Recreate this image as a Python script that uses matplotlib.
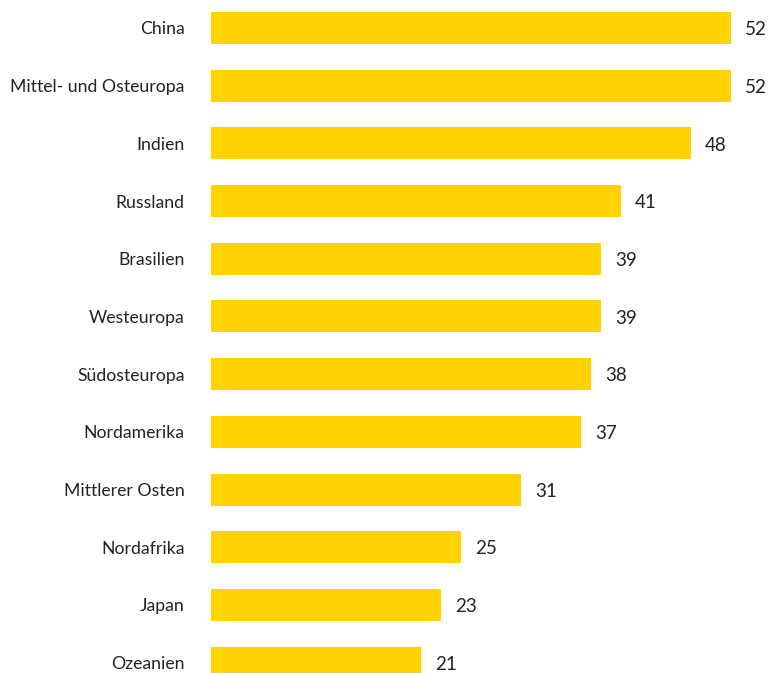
import matplotlib
matplotlib.use("Agg")
import matplotlib.pyplot as plt

regions = ["China", "Mittel- und Osteuropa", "Indien", "Russland", "Brasilien",
           "Westeuropa", "Südosteuropa", "Nordamerika", "Mittlerer Osten",
           "Nordafrika", "Japan", "Ozeanien"]
values = [52, 52, 48, 41, 39, 39, 38, 37, 31, 25, 23, 21]

plt.rcParams['font.family'] = ['Lato', 'DejaVu Sans']

fig = plt.figure(figsize=(7.75, 6.73), dpi=100)
ax = fig.add_axes([211 / 775, 0, 564 / 775, 1])

pos = list(range(len(regions)))
ax.barh(pos, values, height=0.555, color="#FFD200")

for p, v in zip(pos, values):
    ax.text(v + 1.4, p + 0.03, str(v), va="center", ha="left", fontsize=13.5, color="#222222")

ax.set_yticks(pos)
ax.set_yticklabels(regions, fontsize=12.7, color="#222222")
ax.tick_params(axis="y", length=0, pad=19)
ax.set_xticks([])
ax.set_xlim(0, 56.4)
ax.set_ylim(11.18, -0.485)
for s in ax.spines.values():
    s.set_visible(False)

fig.savefig("out.png", dpi=100)
